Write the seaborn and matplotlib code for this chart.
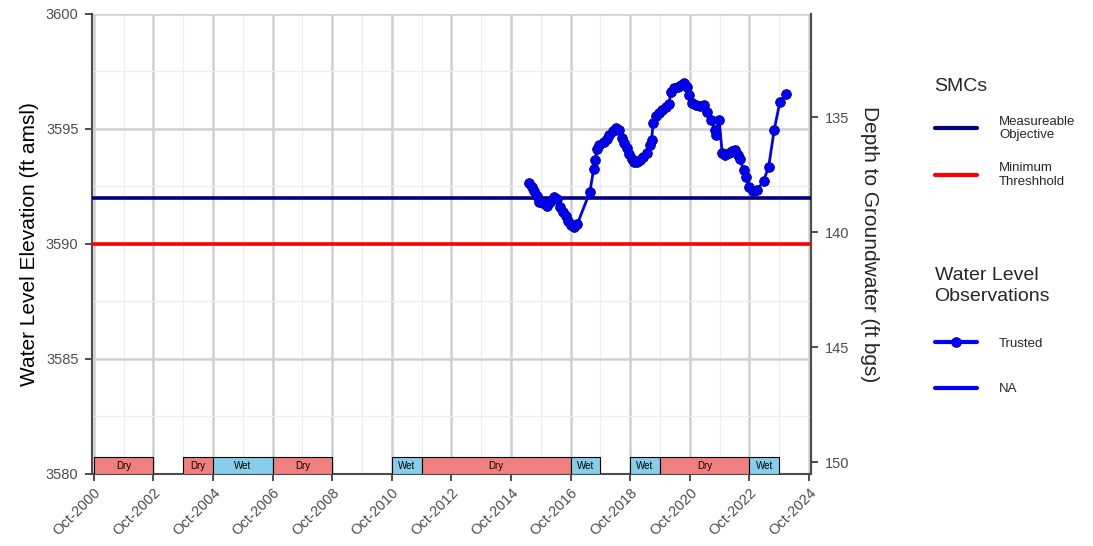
import pandas as pd
import matplotlib
matplotlib.use("Agg")
import matplotlib.pyplot as plt
from matplotlib.lines import Line2D
import seaborn as sns

sns.set_style("white")
plt.rcParams['font.family'] = ['Liberation Sans', 'DejaVu Sans']

# water level observations (elevation, ft amsl)
obs_dates = [
    "2015-05-15", "2015-06-15", "2015-07-15", "2015-08-15", "2015-09-15", "2015-10-25",
    "2015-12-15", "2016-01-25", "2016-03-10", "2016-04-20", "2016-05-25", "2016-07-05",
    "2016-08-10", "2016-09-05", "2016-10-10", "2016-11-15", "2016-12-20", "2017-05-25",
    "2017-07-10", "2017-07-30", "2017-08-20", "2017-09-20", "2017-11-10", "2017-12-15",
    "2018-01-20", "2018-03-01", "2018-04-10", "2018-05-15", "2018-06-25", "2018-07-20",
    "2018-08-20", "2018-09-20", "2018-10-25", "2018-11-20", "2018-12-25", "2019-01-30",
    "2019-03-10", "2019-04-25", "2019-06-01", "2019-06-20", "2019-07-10", "2019-08-15",
    "2019-09-15", "2019-10-25", "2019-12-10", "2020-01-15", "2020-02-15", "2020-03-25",
    "2020-05-05", "2020-06-15", "2020-07-25", "2020-08-25", "2020-09-15", "2020-11-01",
    "2020-12-15", "2021-02-05", "2021-03-25", "2021-05-05", "2021-06-15", "2021-08-05",
    "2021-08-20", "2021-09-25", "2021-11-01", "2021-12-10", "2022-01-20", "2022-03-01",
    "2022-04-10", "2022-05-10", "2022-06-05", "2022-07-25", "2022-08-25", "2022-09-25",
    "2022-11-15", "2023-01-05", "2023-03-25", "2023-05-25", "2023-08-01", "2023-10-10",
    "2023-12-28",
]
obs_elev = [
    3592.67, 3592.49, 3592.30, 3592.09, 3591.84, 3591.77,
    3591.67, 3591.84, 3592.03, 3591.94, 3591.62, 3591.41,
    3591.22, 3591.01, 3590.83, 3590.75, 3590.85, 3592.26,
    3593.25, 3593.65, 3594.12, 3594.30, 3594.43, 3594.55,
    3594.74, 3594.93, 3595.06, 3594.96, 3594.59, 3594.38,
    3594.16, 3593.91, 3593.68, 3593.58, 3593.55, 3593.65,
    3593.80, 3593.94, 3594.30, 3594.52, 3595.27, 3595.57,
    3595.71, 3595.83, 3595.97, 3596.07, 3596.62, 3596.77,
    3596.84, 3596.91, 3597.01, 3596.84, 3596.48, 3596.12,
    3596.04, 3596.00, 3596.04, 3595.75, 3595.39, 3594.96,
    3594.74, 3595.39, 3593.97, 3593.87, 3593.94, 3594.06,
    3594.09, 3593.87, 3593.68, 3593.22, 3592.93, 3592.49,
    3592.30, 3592.35, 3592.75, 3593.36, 3594.96, 3596.19,
    3596.51,
]

# sustainable management criteria
mo_level = 3592.0
mt_level = 3590.0
ground_surface = 3730.5

# water year types
period_start = ["2000-10-01", "2003-10-01", "2004-10-01", "2006-10-01", "2010-10-01",
                "2011-10-01", "2016-10-01", "2018-10-01", "2019-10-01", "2022-10-01"]
period_end = ["2002-10-01", "2004-10-01", "2006-10-01", "2008-10-01", "2011-10-01",
              "2016-10-01", "2017-10-01", "2019-10-01", "2022-10-01", "2023-10-01"]
period_type = ["Dry", "Dry", "Wet", "Dry", "Wet", "Dry", "Wet", "Wet", "Dry", "Wet"]
type_colors = {"Dry": "#F08080", "Wet": "#87CEEB"}

df = pd.DataFrame({"date": pd.to_datetime(obs_dates), "elev": obs_elev})
periods = pd.DataFrame({"start": pd.to_datetime(period_start),
                        "end": pd.to_datetime(period_end),
                        "type": period_type})

fig, ax = plt.subplots(figsize=(10.93, 5.46), dpi=100)
fig.subplots_adjust(left=0.0842, right=0.742, top=0.9744, bottom=0.1319)

dark = "#4D4D4D"

# grid
ax.set_axisbelow(True)
ax.grid(which="major", color="#D0D0D0", lw=1.8)
ax.grid(which="minor", color="#EDEDED", lw=0.9)

ax.axhline(mo_level, color="#000080", lw=2.6, zorder=3)
ax.axhline(mt_level, color="#FF0000", lw=2.6, zorder=3)

sns.lineplot(data=df, x="date", y="elev", ax=ax, color="#0000FF", lw=2,
             marker="o", markersize=7, markeredgecolor="#00008B",
             markeredgewidth=0.6, legend=False, zorder=4)

# water year bars
for _, p in periods.iterrows():
    ax.bar(p["start"], 0.72, width=(p["end"] - p["start"]).days, bottom=3580,
           align="edge", color=type_colors[p["type"]], edgecolor="black",
           lw=0.8, zorder=3)
    mid = p["start"] + (p["end"] - p["start"]) / 2
    ax.text(mid, 3580.36, p["type"], ha="center", va="center", fontsize=7,
            color="black", zorder=5)

ax.set_xlim(pd.Timestamp("2000-09-10"), pd.Timestamp("2024-10-25"))
ax.set_ylim(3580, 3600)

major_x = pd.date_range("2000-10-01", "2024-10-01", freq="24MS")
minor_x = pd.date_range("2001-10-01", "2023-10-01", freq="24MS")
ax.set_xticks(major_x)
ax.set_xticks(minor_x, minor=True)
ax.set_xticklabels([d.strftime("Oct-%Y") for d in major_x], rotation=45,
                   ha="right", rotation_mode="anchor")
ax.set_yticks([3580, 3585, 3590, 3595, 3600])
ax.set_yticks([3582.5, 3587.5, 3592.5, 3597.5], minor=True)

ax.tick_params(which="major", bottom=True, left=True, direction="out", length=5.2,
               width=1.4, color=dark, labelcolor=dark, labelsize=10.5)
ax.tick_params(which="minor", bottom=False, left=False, length=0)
ax.tick_params(axis="x", pad=3)
ax.tick_params(axis="y", pad=4.5)

for s in ["left", "right", "bottom"]:
    ax.spines[s].set_color(dark)
    ax.spines[s].set_linewidth(1.5)
ax.spines["top"].set_visible(False)

ax.set_xlabel("")
ax.set_ylabel("Water Level Elevation (ft amsl)", fontsize=15, color="black",
              labelpad=5)

sec = ax.secondary_yaxis("right", functions=(lambda e: ground_surface - e,
                                             lambda d: ground_surface - d))
sec.set_yticks([135, 140, 145, 150])
sec.tick_params(right=True, direction="out", length=5.2, width=1.4, color=dark,
                labelcolor=dark, labelsize=10.5, pad=5)
sec.spines["right"].set_color(dark)
sec.spines["right"].set_linewidth(1.5)
sec.set_ylabel("Depth to Groundwater (ft bgs)", fontsize=15, rotation=270,
               labelpad=21)

# legends
smc_handles = [Line2D([], [], color="#000080", lw=3),
               Line2D([], [], color="#FF0000", lw=3)]
leg1 = fig.legend(smc_handles, ["Measureable\nObjective", "Minimum\nThreshhold"],
                  title="SMCs", loc="upper left", bbox_to_anchor=(0.855, 0.857),
                  frameon=False, fontsize=9.5, title_fontsize=14,
                  handlelength=3.2, handletextpad=1.7, labelspacing=1.55,
                  alignment="left", borderaxespad=0, borderpad=0)
obs_handles = [Line2D([], [], color="#0000FF", lw=3, marker="o", markersize=7,
                      markeredgecolor="#00008B", markeredgewidth=0.6),
               Line2D([], [], color="#0000FF", lw=3)]
leg2 = fig.legend(obs_handles, ["Trusted", "NA"],
                  title="Water Level\nObservations", loc="upper left",
                  bbox_to_anchor=(0.855, 0.511), frameon=False, fontsize=9.5,
                  title_fontsize=14, handlelength=3.2, handletextpad=1.7,
                  labelspacing=2.5, alignment="left", borderaxespad=0,
                  borderpad=0)
leg2.get_title().set_linespacing(1.3)

fig.savefig("out.png", dpi=100)
